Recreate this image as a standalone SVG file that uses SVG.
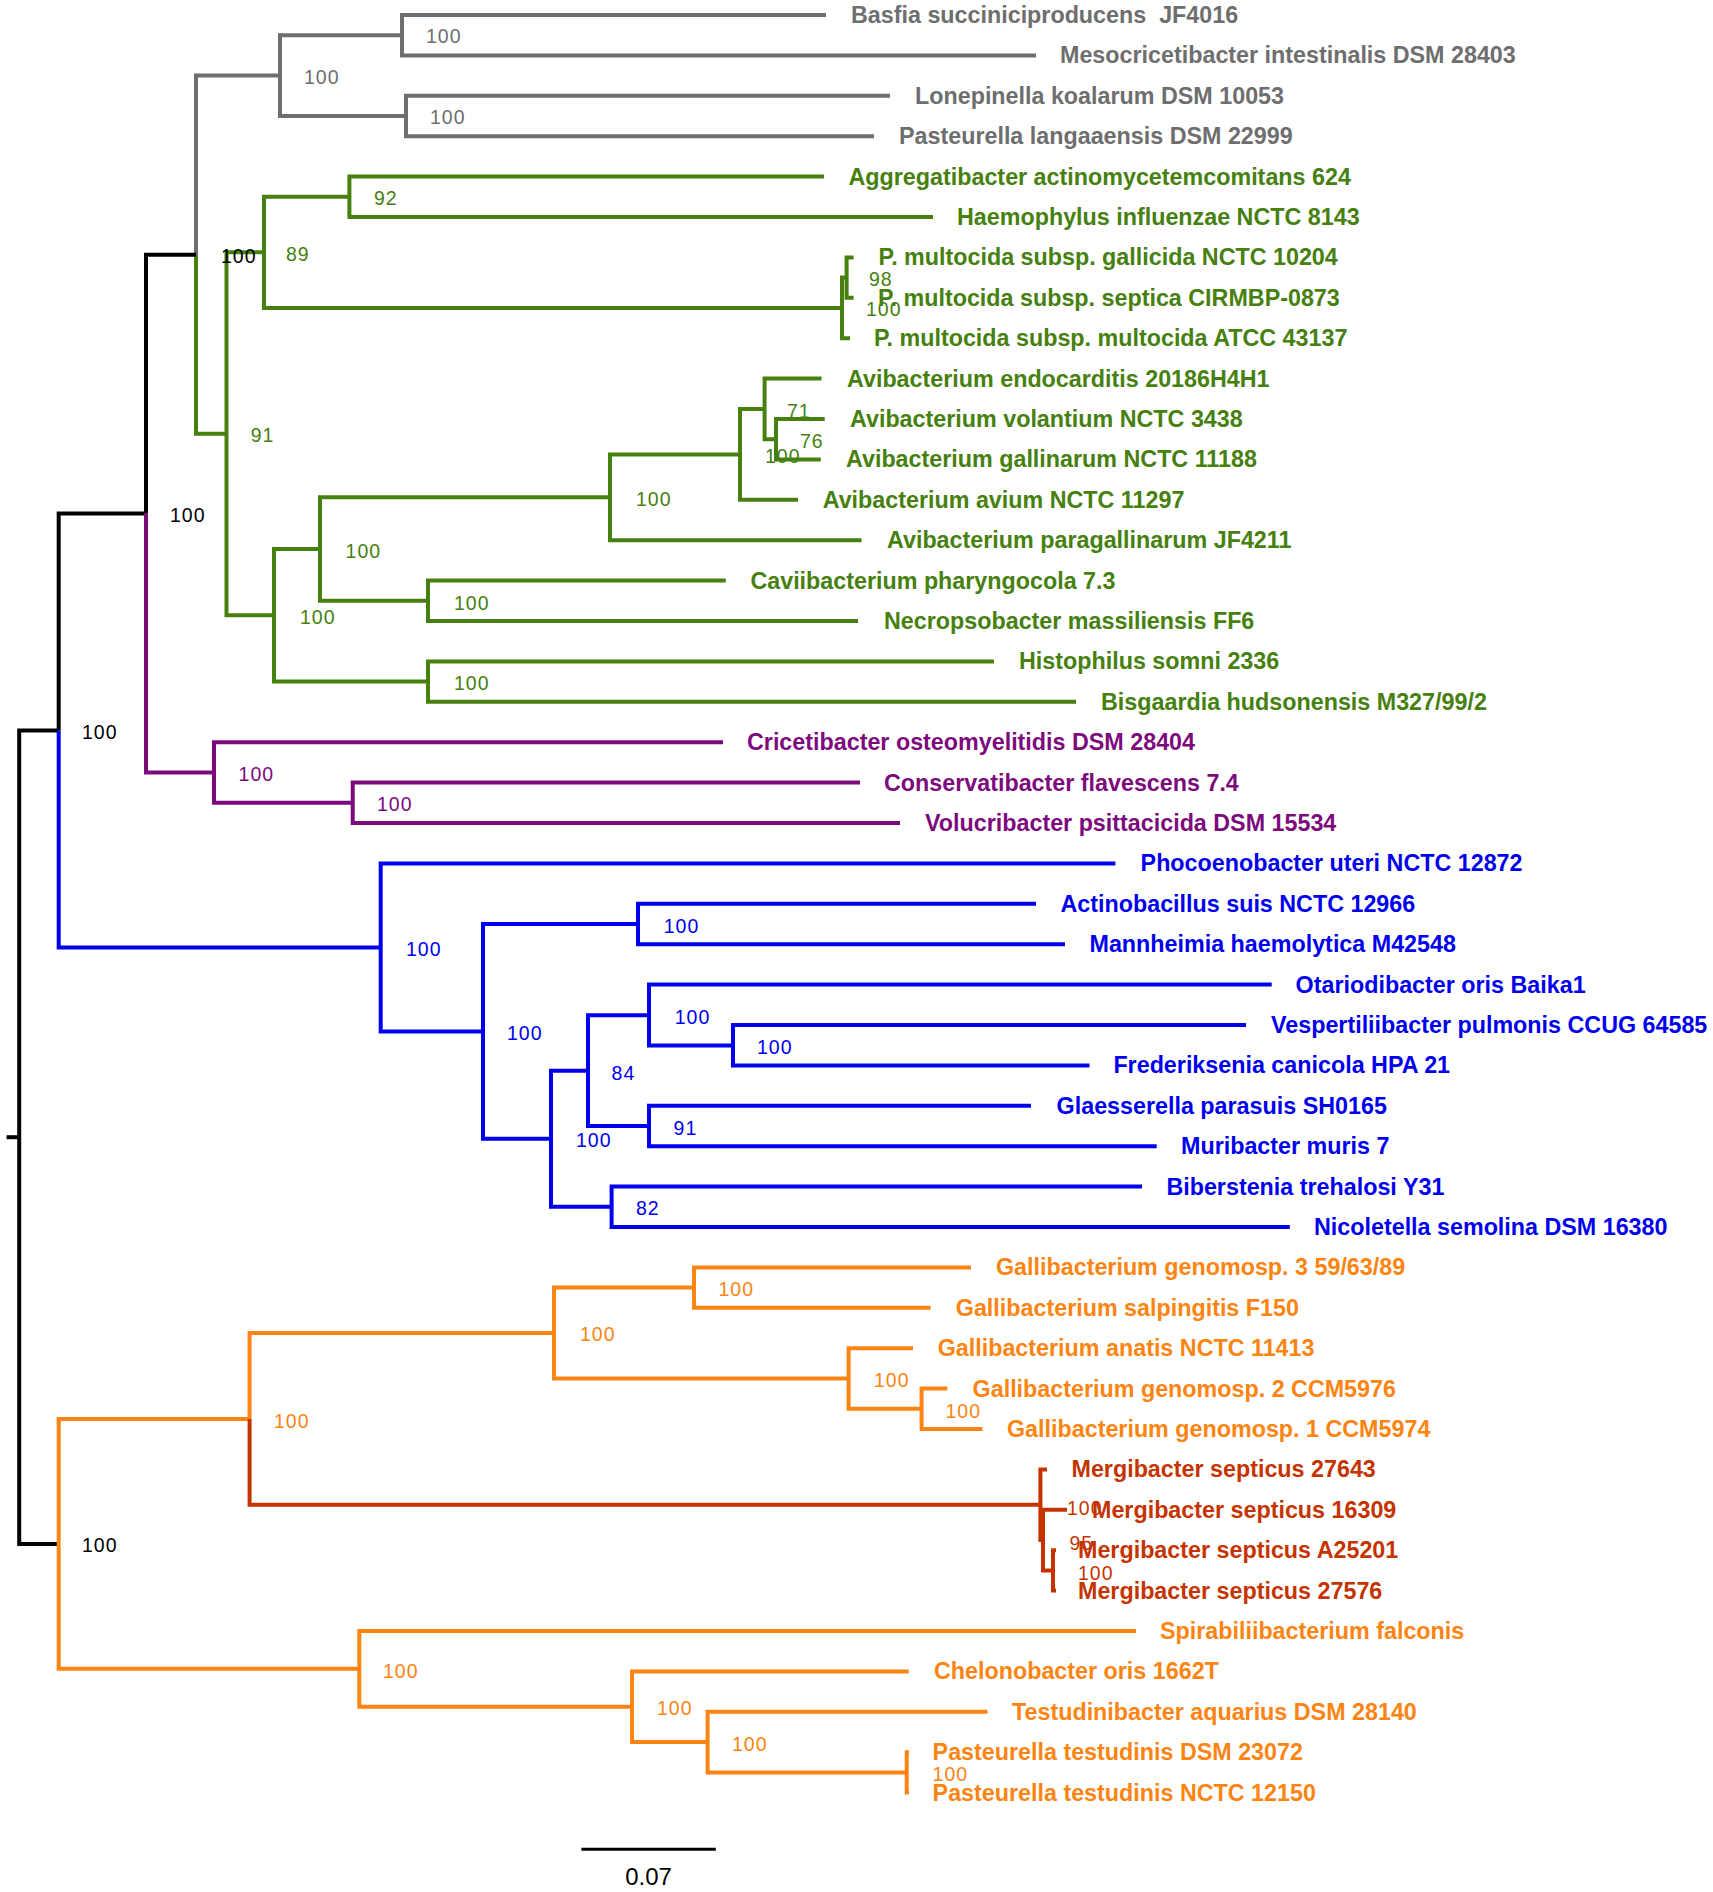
<svg xmlns="http://www.w3.org/2000/svg" width="1713" height="1892" viewBox="0 0 1713 1892">
<style>
path{fill:none;stroke-width:4;stroke-linejoin:miter;stroke-linecap:butt}
.kg{stroke:#6e6e6e}.kgr{stroke:#46800f}.kb{stroke:#000}.kp{stroke:#7d0a7d}.kbl{stroke:#0000ee}.ko{stroke:#fb8412}.kr{stroke:#c53400}
text{font-family:"Liberation Sans",Arial,sans-serif}
.t{font-size:23.3px;font-weight:bold}
.s{font-size:19.5px;letter-spacing:1px}
.fg{fill:#6e6e6e}.fgr{fill:#46800f}.fb{fill:#000}.fp{fill:#7d0a7d}.fbl{fill:#0000ee}.fo{fill:#fb8412}.fr{fill:#c53400}
</style>
<rect width="1713" height="1892" fill="#fff"/>
<g id="connectors">
<g class="kg">
<path d="M402 35.2H280V116H406"/>
<path d="M826 15H402V55.4H1036"/>
<path d="M890 95.8H406V136.2H874"/>
<path d="M280 75.6H196V254.7"/>
</g>
<g class="kgr">
<path d="M196 254.7V433.8H226.5"/>
<path d="M264 252.3H226.5V615.3H274"/>
<path d="M349.4 196.8H264V307.9H842"/>
<path d="M824 176.6H349.4V217H933"/>
<path d="M846.6 277.6H842V338.2H850"/>
<path d="M853.6 257.4H846.6V297.8H853.6"/>
<path d="M320 549H274V681.6H428"/>
<path d="M610 497.3H320V600.8H428"/>
<path d="M740 454.4H610V540.2H861.5"/>
<path d="M764.6 408.9H740V499.8H798"/>
<path d="M821.5 378.6H764.6V439.2H776"/>
<path d="M824.7 419H776V459.4H820.8"/>
<path d="M725.8 580.6H428V621H858"/>
<path d="M994 661.4H428V701.8H1076"/>
</g>
<g class="kb">
<path d="M58.7 730.5H19.2V1543.9H58.7"/>
<path d="M6.6 1137.2H19.2"/>
<path d="M146 513.6H58.7V730.5"/>
<path d="M196 254.7H146V513.6"/>
</g>
<g class="kp">
<path d="M146 513.6V772.5H214"/>
<path d="M723 742.2H214V802.8H352.7"/>
<path d="M860 782.6H352.7V823H900"/>
</g>
<g class="kbl">
<path d="M58.7 730.5V947.4H380.7"/>
<path d="M1115.4 863.4H380.7V1031.4H483"/>
<path d="M638 924H483V1138.7H551"/>
<path d="M1036 903.8H638V944.2H1065"/>
<path d="M588 1070.7H551V1206.8H611.6"/>
<path d="M649 1015.3H588V1126H649"/>
<path d="M1271.7 984.6H649V1045.6H733"/>
<path d="M1246 1025H733V1065.4H1089.5"/>
<path d="M1031 1105.8H649V1146.2H1156.7"/>
<path d="M1142 1186.6H611.6V1227H1289.8"/>
</g>
<g class="ko">
<path d="M249.6 1418.9H58.7V1668.8H359.3"/>
<path d="M554 1333H249.6V1418.9"/>
<path d="M694 1287.6H554V1378.5H848.6"/>
<path d="M971 1267.4H694V1307.8H930.6"/>
<path d="M913 1348.2H848.6V1408.8H921.6"/>
<path d="M947.4 1388.6H921.6V1429H982.3"/>
<path d="M1136 1631H359.3V1706.7H632"/>
<path d="M908.7 1671.4H632V1742H707.6"/>
<path d="M987.5 1711.8H707.6V1772.4H906.7"/>
<path d="M909 1752.2H906.7V1792.6H909"/>
</g>
<g class="kr">
<path d="M249.6 1418.9V1504.8H1040.4"/>
<path d="M1047 1469.4H1040.4V1540.1H1043"/>
<path d="M1067 1509.8H1043V1570.4H1053"/>
<path d="M1056 1550.2H1053V1590.6H1056"/>
</g>
<path d="M581.4 1849.3H715.8" style="stroke:#000;stroke-width:3"/>
</g>
<g id="support">
<g class="s fg">
<text x="426" y="42.7">100</text><text x="304" y="83.5">100</text><text x="430" y="123.5">100</text>
</g>
<g class="s fb">
<text x="221" y="262.5">100</text><text x="170" y="521.5">100</text><text x="82" y="738.5">100</text><text x="82" y="1551.5">100</text>
</g>
<g class="s fgr">
<text x="374" y="204.5">92</text><text x="286" y="260.5">89</text><text x="869" y="285.5">98</text><text x="866" y="315.5">100</text>
<text x="250.7" y="441.5">91</text><text x="787" y="417.5">71</text><text x="800" y="447.5">76</text><text x="765" y="462.5">100</text>
<text x="636" y="505.5">100</text><text x="345.6" y="557.5">100</text><text x="300" y="623.5">100</text><text x="454" y="609.5">100</text><text x="454" y="689.5">100</text>
</g>
<g class="s fp">
<text x="238.6" y="780.5">100</text><text x="377" y="810.5">100</text>
</g>
<g class="s fbl">
<text x="406" y="955.5">100</text><text x="663.7" y="932.5">100</text><text x="507" y="1039.5">100</text><text x="576" y="1146.5">100</text>
<text x="611.6" y="1079.5">84</text><text x="674.7" y="1023.5">100</text><text x="757" y="1053.5">100</text><text x="673.6" y="1134.5">91</text><text x="636" y="1214.5">82</text>
</g>
<g class="s fo">
<text x="274" y="1427.5">100</text><text x="580" y="1340.5">100</text><text x="718.5" y="1295.5">100</text><text x="874" y="1386.5">100</text><text x="945.5" y="1417.5">100</text>
<text x="383" y="1677.5">100</text><text x="657" y="1714.5">100</text><text x="732" y="1750.5">100</text><text x="932.6" y="1780.5">100</text>
</g>
<g class="s fr">
<text x="1067" y="1514.5">100</text><text x="1069.5" y="1549.5">95</text><text x="1078" y="1579.5">100</text>
</g>
</g>
<g id="leaves">
<g class="t fg">
<g id="leaf0"><text x="851" y="23" style="white-space:pre">Basfia succiniciproducens  JF4016</text></g>
<g id="leaf1"><text x="1060" y="63.4">Mesocricetibacter intestinalis DSM 28403</text></g>
<g id="leaf2"><text x="915" y="103.8">Lonepinella koalarum DSM 10053</text></g>
<g id="leaf3"><text x="899" y="144.2">Pasteurella langaaensis DSM 22999</text></g>
</g>
<g class="t fgr">
<g id="leaf4"><text x="848.5" y="184.6">Aggregatibacter actinomycetemcomitans 624</text></g>
<g id="leaf5"><text x="957" y="225">Haemophylus influenzae NCTC 8143</text></g>
<g id="leaf6"><text x="878.6" y="265.4">P. multocida subsp. gallicida NCTC 10204</text></g>
<g id="leaf7"><text x="878" y="305.8">P. multocida subsp. septica CIRMBP-0873</text></g>
<g id="leaf8"><text x="874" y="346.2">P. multocida subsp. multocida ATCC 43137</text></g>
<g id="leaf9"><text x="847" y="386.6">Avibacterium endocarditis 20186H4H1</text></g>
<g id="leaf10"><text x="850" y="427">Avibacterium volantium NCTC 3438</text></g>
<g id="leaf11"><text x="846" y="467.4">Avibacterium gallinarum NCTC 11188</text></g>
<g id="leaf12"><text x="822.7" y="507.8">Avibacterium avium NCTC 11297</text></g>
<g id="leaf13"><text x="887" y="548.2">Avibacterium paragallinarum JF4211</text></g>
<g id="leaf14"><text x="750.4" y="588.6">Caviibacterium pharyngocola 7.3</text></g>
<g id="leaf15"><text x="884" y="629">Necropsobacter massiliensis FF6</text></g>
<g id="leaf16"><text x="1019" y="669.4">Histophilus somni 2336</text></g>
<g id="leaf17"><text x="1101" y="709.8">Bisgaardia hudsonensis M327/99/2</text></g>
</g>
<g class="t fp">
<g id="leaf18"><text x="747" y="750.2">Cricetibacter osteomyelitidis DSM 28404</text></g>
<g id="leaf19"><text x="884" y="790.6">Conservatibacter flavescens 7.4</text></g>
<g id="leaf20"><text x="925" y="831">Volucribacter psittacicida DSM 15534</text></g>
</g>
<g class="t fbl">
<g id="leaf21"><text x="1140.6" y="871.4">Phocoenobacter uteri NCTC 12872</text></g>
<g id="leaf22"><text x="1060.5" y="911.8">Actinobacillus suis NCTC 12966</text></g>
<g id="leaf23"><text x="1089.5" y="952.2">Mannheimia haemolytica M42548</text></g>
<g id="leaf24"><text x="1295.6" y="992.6">Otariodibacter oris Baika1</text></g>
<g id="leaf25"><text x="1271" y="1033">Vespertiliibacter pulmonis CCUG 64585</text></g>
<g id="leaf26"><text x="1113.4" y="1073.4">Frederiksenia canicola HPA 21</text></g>
<g id="leaf27"><text x="1056.6" y="1113.8">Glaesserella parasuis SH0165</text></g>
<g id="leaf28"><text x="1181" y="1154.2">Muribacter muris 7</text></g>
<g id="leaf29"><text x="1166.4" y="1194.6">Biberstenia trehalosi Y31</text></g>
<g id="leaf30"><text x="1314" y="1235">Nicoletella semolina DSM 16380</text></g>
</g>
<g class="t fo">
<g id="leaf31"><text x="996" y="1275.4">Gallibacterium genomosp. 3 59/63/89</text></g>
<g id="leaf32"><text x="955.8" y="1315.8">Gallibacterium salpingitis F150</text></g>
<g id="leaf33"><text x="937.7" y="1356.2">Gallibacterium anatis NCTC 11413</text></g>
<g id="leaf34"><text x="972.6" y="1396.6">Gallibacterium genomosp. 2 CCM5976</text></g>
<g id="leaf35"><text x="1007" y="1437">Gallibacterium genomosp. 1 CCM5974</text></g>
</g>
<g class="t fr">
<g id="leaf36"><text x="1071.5" y="1477.4">Mergibacter septicus 27643</text></g>
<g id="leaf37"><text x="1092" y="1517.8">Mergibacter septicus 16309</text></g>
<g id="leaf38"><text x="1078" y="1558.2">Mergibacter septicus A25201</text></g>
<g id="leaf39"><text x="1078" y="1598.6">Mergibacter septicus 27576</text></g>
</g>
<g class="t fo">
<g id="leaf40"><text x="1160" y="1639">Spirabiliibacterium falconis</text></g>
<g id="leaf41"><text x="934" y="1679.4">Chelonobacter oris 1662T</text></g>
<g id="leaf42"><text x="1012" y="1719.8">Testudinibacter aquarius DSM 28140</text></g>
<g id="leaf43"><text x="932.6" y="1760.2">Pasteurella testudinis DSM 23072</text></g>
<g id="leaf44"><text x="932.6" y="1800.6">Pasteurella testudinis NCTC 12150</text></g>
</g>
</g>
<g id="scale"><text x="648.6" y="1885" text-anchor="middle" style="font-size:24px" class="fb">0.07</text></g>
</svg>
